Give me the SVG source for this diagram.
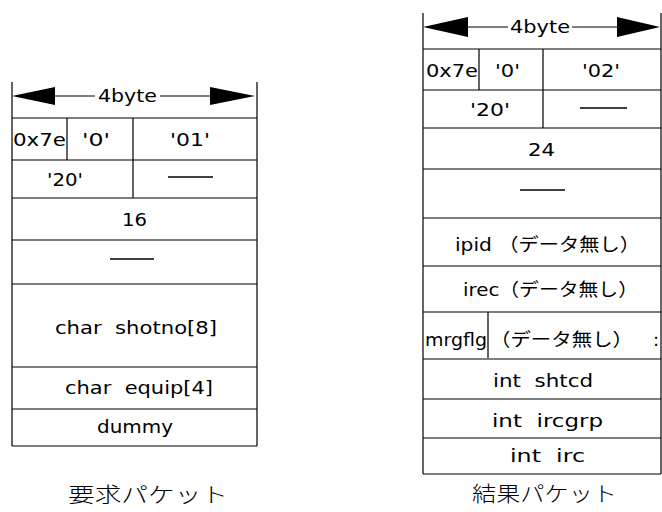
<svg xmlns="http://www.w3.org/2000/svg" width="662" height="512" viewBox="0 0 662 512">
<style>
.ln{stroke:#000;stroke-width:1.2;fill:none}
.dash{stroke:#000;stroke-width:1.5}
.t{font-family:"DejaVu Sans","Noto Sans CJK JP",sans-serif;font-size:18px;fill:#000}
.j{font-family:"DejaVu Sans","Noto Sans CJK JP",sans-serif;font-size:18px;fill:#000}
.cap{font-family:"Noto Sans CJK JP",sans-serif;font-size:21px;font-weight:300;fill:#000}
.ah{fill:#000}
</style>
<rect width="662" height="512" fill="#fff"/>

<!-- Left: request packet -->
<g id="req-frame">
<path class="ln" d="M12 82V446M257 82V446M12 446H257"/>
</g>
<g id="req-row1">
<path class="ln" d="M12 118H257M67 118V160M133 118V160"/>
<text class="t" x="13" y="146" textLength="53" lengthAdjust="spacingAndGlyphs">0x7e</text>
<text class="t" x="82" y="146" textLength="28" lengthAdjust="spacingAndGlyphs">'0'</text>
<text class="t" x="170" y="146" textLength="40" lengthAdjust="spacingAndGlyphs">'01'</text>
</g>
<g id="req-row2">
<path class="ln" d="M12 160H257M133 160V198"/>
<text class="t" x="47" y="186" textLength="36" lengthAdjust="spacingAndGlyphs">'20'</text>
<line class="dash" x1="168" y1="177" x2="213" y2="177"/>
</g>
<g id="req-row3">
<path class="ln" d="M12 198H257"/>
<text class="t" x="122" y="226" textLength="25" lengthAdjust="spacingAndGlyphs">16</text>
</g>
<g id="req-row4">
<path class="ln" d="M12 240H257"/>
<line class="dash" x1="110" y1="259" x2="154" y2="259"/>
</g>
<g id="req-row5">
<path class="ln" d="M12 284H257"/>
<text class="t" x="55" y="334" textLength="162" lengthAdjust="spacingAndGlyphs" xml:space="preserve">char  shotno[8]</text>
</g>
<g id="req-row6">
<path class="ln" d="M12 367H257"/>
<text class="t" x="65" y="394" textLength="148" lengthAdjust="spacingAndGlyphs" xml:space="preserve">char  equip[4]</text>
</g>
<g id="req-row7">
<path class="ln" d="M12 409H257"/>
<text class="t" x="97" y="433" textLength="76" lengthAdjust="spacingAndGlyphs">dummy</text>
</g>
<g id="req-caption">
<text class="cap" x="68" y="502" textLength="160" lengthAdjust="spacingAndGlyphs">要求パケット</text>
</g>

<!-- Right: result packet -->
<g id="res-frame">
<path class="ln" d="M423 13V474M661 13V474M423 474H661"/>
</g>
<g id="res-row1">
<path class="ln" d="M423 49H661M479 49V90M543 49V128"/>
<text class="t" x="426" y="77" textLength="52" lengthAdjust="spacingAndGlyphs">0x7e</text>
<text class="t" x="495" y="77" textLength="25" lengthAdjust="spacingAndGlyphs">'0'</text>
<text class="t" x="582" y="77" textLength="38" lengthAdjust="spacingAndGlyphs">'02'</text>
</g>
<g id="res-row2">
<path class="ln" d="M423 90H661"/>
<text class="t" x="470" y="116" textLength="40" lengthAdjust="spacingAndGlyphs">'20'</text>
<line class="dash" x1="580" y1="108" x2="627" y2="108"/>
</g>
<g id="res-row3">
<path class="ln" d="M423 128H661"/>
<text class="t" x="528" y="156" textLength="27" lengthAdjust="spacingAndGlyphs">24</text>
</g>
<g id="res-row4">
<path class="ln" d="M423 169H661"/>
<line class="dash" x1="520" y1="190" x2="565" y2="190"/>
</g>
<g id="res-row5">
<path class="ln" d="M423 218H661"/>
<text class="j" x="455" y="251" textLength="185" lengthAdjust="spacingAndGlyphs" xml:space="preserve">ipid （データ無し）</text>
</g>
<g id="res-row6">
<path class="ln" d="M423 266H661"/>
<text class="j" x="463" y="296" textLength="175" lengthAdjust="spacingAndGlyphs">irec（データ無し）</text>
</g>
<g id="res-row7">
<path class="ln" d="M423 312H661M488 312V358"/>
<text class="t" x="425" y="346" textLength="62" lengthAdjust="spacingAndGlyphs">mrgflg</text>
<text class="j" x="490" y="346" textLength="143" lengthAdjust="spacingAndGlyphs">（データ無し）</text>
<text class="t" x="653" y="346">:</text>
</g>
<g id="res-row8">
<path class="ln" d="M423 359H661"/>
<text class="t" x="493" y="387" textLength="100" lengthAdjust="spacingAndGlyphs" xml:space="preserve">int  shtcd</text>
</g>
<g id="res-row9">
<path class="ln" d="M423 399H661"/>
<text class="t" x="492" y="427" textLength="111" lengthAdjust="spacingAndGlyphs" xml:space="preserve">int  ircgrp</text>
</g>
<g id="res-row10">
<path class="ln" d="M423 438H661"/>
<text class="t" x="510" y="462" textLength="75" lengthAdjust="spacingAndGlyphs" xml:space="preserve">int  irc</text>
</g>
<g id="res-caption">
<text class="cap" x="472" y="501" textLength="145" lengthAdjust="spacingAndGlyphs">結果パケット</text>
</g>

<!-- dimension arrows -->
<g id="connectors">
<path class="ln" d="M55 96H95M160 96H210"/>
<polygon class="ah" points="12,96 55,87 55,105"/>
<polygon class="ah" points="255,96 210,87 210,105"/>
<text class="t" x="98" y="102" textLength="59" lengthAdjust="spacingAndGlyphs">4byte</text>
<path class="ln" d="M468 27H508M572 27H617"/>
<polygon class="ah" points="423,27 468,17 468,37"/>
<polygon class="ah" points="660,27 617,17 617,37"/>
<text class="t" x="510" y="33" textLength="60" lengthAdjust="spacingAndGlyphs">4byte</text>
</g>
</svg>
